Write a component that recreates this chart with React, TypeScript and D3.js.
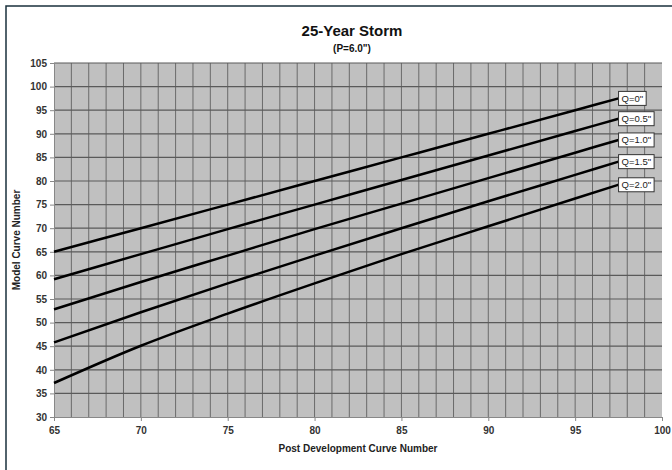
import React, { useRef, useEffect } from 'react';
import * as d3 from 'd3';

// Post development curve numbers (x) and model curve numbers per runoff reduction Q
const postCN = [65, 70, 75, 80, 85, 90, 95, 97.5];
const q00 = [65, 70, 75, 80, 85, 90, 95, 97.5];
const q05 = [59.2, 64.5, 69.8, 75.0, 80.2, 85.4, 90.6, 93.2];
const q10 = [52.8, 58.6, 64.2, 69.8, 75.2, 80.6, 86.0, 88.7];
const q15 = [45.8, 52.2, 58.3, 64.2, 70.0, 75.7, 81.3, 84.1];
const q20 = [37.2, 45.1, 51.9, 58.3, 64.5, 70.4, 76.3, 79.2];
const seriesLabels = ['Q=0"', 'Q=0.5"', 'Q=1.0"', 'Q=1.5"', 'Q=2.0"'];
const seriesValues = [q00, q05, q10, q15, q20];

const xTicks = [65, 70, 75, 80, 85, 90, 95, 100];
const yTicks = [30, 35, 40, 45, 50, 55, 60, 65, 70, 75, 80, 85, 90, 95, 100, 105];

const W = 672;
const H = 470;
const FONT = 'Liberation Sans, Arial, sans-serif';

const App: React.FC = () => {
  const svgRef = useRef<SVGSVGElement>(null);

  useEffect(() => {
    if (!svgRef.current) return;
    const svg = d3.select(svgRef.current);
    svg.selectAll('*').remove();

    const left = 54, right = 662, top = 63, bottom = 417;
    const x = d3.scaleLinear().domain([65, 100]).range([left, right]);
    const y = d3.scaleLinear().domain([30, 105]).range([bottom, top]);

    // outer frame (cropped at right and bottom in the original)
    svg.append('rect')
      .attr('x', 6).attr('y', 6)
      .attr('width', W + 20).attr('height', H + 20)
      .attr('fill', '#fff').attr('stroke', '#1a303c').attr('stroke-width', 1.5);

    // plot background
    svg.append('rect')
      .attr('x', left).attr('y', top)
      .attr('width', right - left).attr('height', bottom - top)
      .attr('fill', '#c0c0c0');

    const grid = svg.append('g');
    grid.selectAll('line.v')
      .data(d3.range(66, 100))
      .join('line')
      .attr('x1', d => x(d)).attr('x2', d => x(d))
      .attr('y1', top).attr('y2', bottom)
      .attr('stroke', '#6a6a6a').attr('stroke-width', 1);
    grid.selectAll('line.h')
      .data(yTicks.slice(1))
      .join('line')
      .attr('x1', left).attr('x2', right)
      .attr('y1', d => y(d)).attr('y2', d => y(d))
      .attr('stroke', '#5a5a5a').attr('stroke-width', 1.2);

    // axes
    const xAxis = d3.axisBottom(x).tickValues(xTicks).tickSize(4).tickPadding(6);
    const gx = svg.append('g').attr('transform', `translate(0,${bottom})`).call(xAxis);
    const yAxis = d3.axisLeft(y).tickValues(yTicks).tickSize(4).tickPadding(3);
    const gy = svg.append('g').attr('transform', `translate(${left},0)`).call(yAxis);
    [gx, gy].forEach(g => {
      g.select('.domain').attr('stroke', '#888');
      g.selectAll('.tick line').attr('stroke', '#888');
      g.selectAll('.tick text')
        .attr('font-family', FONT).attr('font-size', 10).attr('font-weight', 'bold')
        .attr('fill', '#333');
    });

    // lines
    const line = d3.line<[number, number]>()
      .x(d => x(d[0])).y(d => y(d[1]))
      .curve(d3.curveMonotoneX);
    seriesValues.forEach((vals, i) => {
      const pts = postCN.map((c, j) => [c, vals[j]] as [number, number]);
      svg.append('path')
        .attr('d', line(pts) as string)
        .attr('fill', 'none').attr('stroke', '#000').attr('stroke-width', 2.5);

      const ex = x(postCN[postCN.length - 1]);
      const ey = y(vals[vals.length - 1]);
      const lbl = svg.append('g').attr('transform', `translate(${ex},${ey})`);
      const txt = lbl.append('text')
        .attr('x', 3).attr('y', 3.5)
        .attr('font-family', FONT).attr('font-size', 9.5)
        .attr('fill', '#222')
        .text(seriesLabels[i]);
      const bw = (txt.node() as SVGTextElement).getComputedTextLength() + 6;
      lbl.insert('rect', 'text')
        .attr('x', 0).attr('y', -7).attr('width', bw).attr('height', 14)
        .attr('fill', '#fff').attr('stroke', '#333').attr('stroke-width', 1);
    });

    // titles
    svg.append('text')
      .attr('x', 352).attr('y', 36).attr('text-anchor', 'middle')
      .attr('font-family', FONT).attr('font-size', 15).attr('font-weight', 'bold')
      .attr('fill', '#111').text('25-Year Storm');
    svg.append('text')
      .attr('x', 352).attr('y', 52).attr('text-anchor', 'middle')
      .attr('font-family', FONT).attr('font-size', 10).attr('font-weight', 'bold')
      .attr('fill', '#111').text('(P=6.0")');
    svg.append('text')
      .attr('x', (left + right) / 2).attr('y', 452).attr('text-anchor', 'middle')
      .attr('font-family', FONT).attr('font-size', 10).attr('font-weight', 'bold')
      .attr('fill', '#222').text('Post Development Curve Number');
    svg.append('text')
      .attr('transform', `translate(20,${(top + bottom) / 2}) rotate(-90)`)
      .attr('text-anchor', 'middle')
      .attr('font-family', FONT).attr('font-size', 10).attr('font-weight', 'bold')
      .attr('fill', '#222').text('Model Curve Number');
  }, []);

  return (
    <svg
      ref={svgRef}
      width={W}
      height={H}
      style={{ position: 'absolute', top: 0, left: 0, background: '#fff' }}
    />
  );
};

export default App;
